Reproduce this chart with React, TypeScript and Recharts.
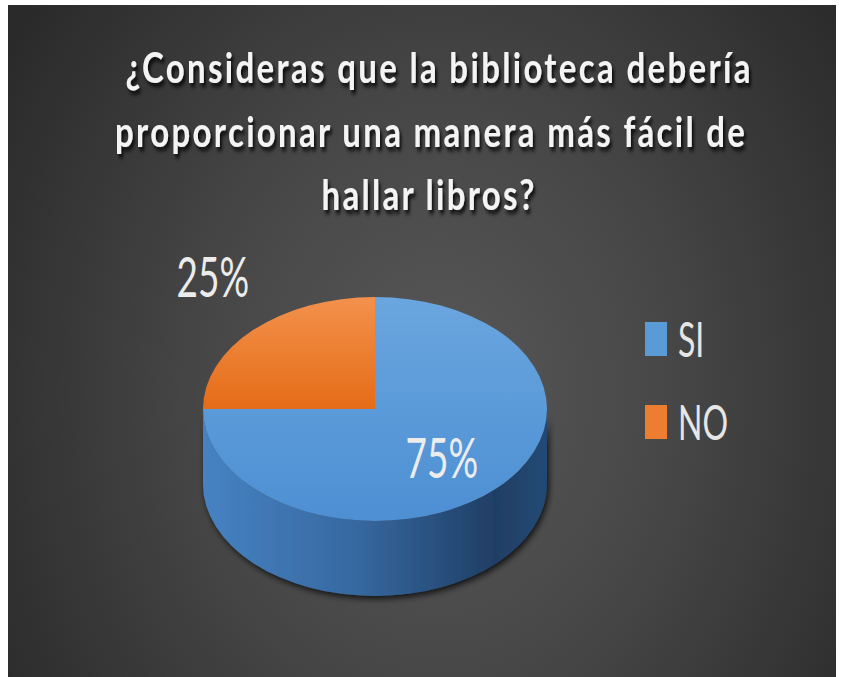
import React from 'react';
import { PieChart, Pie, Cell, Legend } from 'recharts';

// survey answers
const answers = ['SI', 'NO'];
const shares = [75, 25];
const colors = ['#5B9BD5', '#ED7D31'];
const titleLines = [
  '¿Consideras que la biblioteca debería',
  'proporcionar una manera más fácil de',
  'hallar libros?',
];

const data = answers.map((name, i) => ({ name, value: shares[i] }));

const K = 0.651; // vertical squash of the pie disc
const DEPTH = 75; // height of the 3d rim
const RAD = Math.PI / 180;

const topGrad = [
  ['#6aa6df', '#4d8fd3'],
  ['#f3914c', '#e56c17'],
];

const sliceShape = (props: any) => {
  const { cx, cy, outerRadius: r, startAngle, endAngle, index } = props;
  const pt = (a: number, dy = 0) => [cx + r * Math.cos(-a * RAD), cy + K * r * Math.sin(-a * RAD) + dy];
  const [sx, sy] = pt(startAngle);
  const [ex, ey] = pt(endAngle);
  const sweep = endAngle < startAngle ? 1 : 0;
  const large = Math.abs(endAngle - startAngle) > 180 ? 1 : 0;
  const top = `M${cx},${cy} L${sx},${sy} A${r},${K * r} 0 ${large} ${sweep} ${ex},${ey} Z`;

  // visible front rim = part of the slice between -180 and 0 degrees
  const lo = Math.min(startAngle, endAngle);
  const hi = Math.max(startAngle, endAngle);
  let side = '';
  for (let n = -1; n <= 1; n++) {
    const a1 = Math.max(lo, -180 + 360 * n);
    const a2 = Math.min(hi, 360 * n);
    if (a2 - a1 > 0.5) {
      const [x1, y1] = pt(a1);
      const [x2, y2] = pt(a2);
      side += `M${x1},${y1} A${r},${K * r} 0 0 0 ${x2},${y2} L${x2},${y2 + DEPTH} A${r},${K * r} 0 0 1 ${x1},${y1 + DEPTH} Z `;
    }
  }
  const g = topGrad[index % topGrad.length];
  return (
    <g>
      <defs>
        <linearGradient id={`top${index}`} x1="0" y1="0" x2="0" y2="1">
          <stop offset="0%" stopColor={g[0]} />
          <stop offset="100%" stopColor={g[1]} />
        </linearGradient>
        <linearGradient id={`side${index}`} gradientUnits="userSpaceOnUse" x1={cx - r} y1={0} x2={cx + r} y2={0}>
          <stop offset="0%" stopColor="#4682c3" />
          <stop offset="45%" stopColor="#36689f" />
          <stop offset="85%" stopColor="#1f3e65" />
          <stop offset="100%" stopColor="#244a75" />
        </linearGradient>
        <filter id={`shadow${index}`} x="-10%" y="-10%" width="120%" height="130%">
          <feDropShadow dx="2" dy="3" stdDeviation="3" floodColor="#000" floodOpacity="0.75" />
        </filter>
      </defs>
      {side && <path d={side} fill={`url(#side${index})`} filter={`url(#shadow${index})`} />}
      <path d={top} fill={`url(#top${index})`} />
    </g>
  );
};

const renderLabel = (props: any) => {
  const { cx, cy, midAngle, outerRadius, percent } = props;
  const outside = percent < 0.5;
  const rr = outerRadius * (outside ? 1.3 : 0.55);
  const x = cx + rr * Math.cos(-midAngle * RAD) - (outside ? 4 : 0);
  const y = cy + K * rr * Math.sin(-midAngle * RAD) + (outside ? -29 : 5);
  return (
    <g transform={`translate(${x},${y}) scale(1,1.5)`}>
      <text x={0} y={0} dy="0.36em" textAnchor="middle" fontSize={37} fontFamily="Lato, 'Open Sans', sans-serif" fontWeight={400} fill="#ececec">
        {`${Math.round(percent * 100)}%`}
      </text>
    </g>
  );
};

const renderLegend = (props: any) => {
  const items = [...(props.payload || [])].sort(
    (a: any, b: any) => answers.indexOf(a.value) - answers.indexOf(b.value)
  );
  return (
    <svg width={150} height={140} style={{ overflow: 'visible' }}>
      {items.map((entry: any, i: number) => (
        <g key={entry.value} transform={`translate(0,${i * 83})`}>
          <rect x={0} y={4} width={22} height={34} fill={entry.color} />
          <g transform="translate(33,39) scale(1,1.52)">
            <text x={0} y={0} fontSize={32} fontFamily="Lato, 'Open Sans', sans-serif" fontWeight={400} fill="#e6e6e6">
              {entry.value}
            </text>
          </g>
        </g>
      ))}
    </svg>
  );
};

const titlePos = [
  { x: 438, y: 83, w: 625 },
  { x: 430, y: 147, w: 630 },
  { x: 428, y: 210, w: 213 },
];

export default function App() {
  return (
    <div style={{ position: 'relative', width: 842, height: 677, background: '#fff', overflow: 'hidden' }}>
      <style>{'body{margin:0}'}</style>
      <div
        style={{
          position: 'absolute',
          left: 8,
          top: 5,
          width: 828,
          height: 672,
          background: 'radial-gradient(ellipse 62% 95% at 52% 58%, #585858 0%, #474747 45%, #2a2a2a 100%)',
        }}
      />
      <div style={{ position: 'absolute', left: 0, top: 0 }}>
        <PieChart width={842} height={677}>
          <Pie
            data={data}
            dataKey="value"
            nameKey="name"
            cx={370}
            cy={404}
            outerRadius={172}
            startAngle={90}
            endAngle={-270}
            stroke="none"
            label={renderLabel}
            labelLine={false}
            shape={sliceShape}
            inactiveShape={sliceShape}
            activeShape={sliceShape}
            isAnimationActive={false}
          >
            {data.map((d, i) => (
              <Cell key={d.name} fill={colors[i]} />
            ))}
          </Pie>
          <Legend
            content={renderLegend}
            itemSorter={null as any}
            wrapperStyle={{ position: 'absolute', left: 645, top: 318, width: 150, height: 140 }}
          />
        </PieChart>
      </div>
      <svg width={842} height={677} style={{ position: 'absolute', left: 0, top: 0, pointerEvents: 'none' }}>
        <defs>
          <filter id="titleShadow" x="-5%" y="-30%" width="110%" height="160%">
            <feDropShadow dx="2" dy="3" stdDeviation="1.5" floodColor="#000" floodOpacity="0.85" />
          </filter>
        </defs>
        {titleLines.map((line, i) => (
          <g key={i} transform={`translate(${titlePos[i].x},${titlePos[i].y}) scale(1,1.3)`}>
            <text
              x={0}
              y={0}
              textAnchor="middle"
              textLength={titlePos[i].w}
              lengthAdjust="spacing"
              fontSize={33}
              fontWeight={700}
              fontFamily="Lato, 'Open Sans', sans-serif"
              fill="#f4f4f4"
              filter="url(#titleShadow)"
            >
              {line}
            </text>
          </g>
        ))}
      </svg>
    </div>
  );
}
